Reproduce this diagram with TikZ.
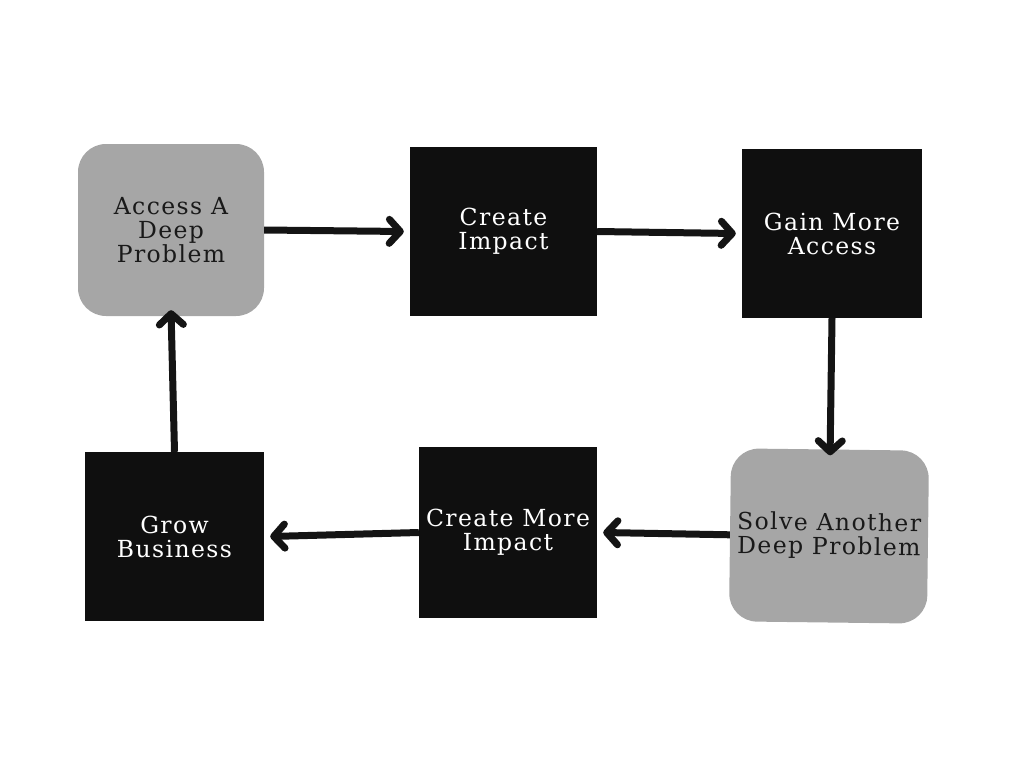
\documentclass[tikz,border=0pt]{standalone}
\usepackage{fontspec}
\setmainfont[LetterSpace=6]{DejaVu Serif}
\usetikzlibrary{arrows.meta}
\begin{document}
\begin{tikzpicture}[x=1pt,y=-1pt,
 base/.style={align=center,font=\fontsize{23.5}{24}\selectfont,inner sep=0pt},
 blk/.style={base,fill=black!94,text=white},
 gry/.style={base,fill=black!35,text=black!90,rounded corners=28pt},
 arr/.style={line width=7pt,black!92,-{Straight Barb[length=11pt,width=24pt,line width=7pt,round]}}]
\useasboundingbox (0,0) rectangle (1024,768);
\node[gry,minimum width=186pt,minimum height=172pt] (a) at (171,230) {Access A\\Deep\\Problem};
\node[blk,minimum width=187pt,minimum height=169pt] (b) at (503.5,231.5) {Create\\Impact};
\node[blk,minimum width=180pt,minimum height=169pt] (c) at (832,233.5) {Gain More\\Access};
\node[gry,minimum width=198pt,minimum height=173pt,rotate=-0.7] (d) at (829,536) {Solve Another\\Deep Problem};
\node[blk,minimum width=178pt,minimum height=171pt] (e) at (508,532.5) {Create More\\Impact};
\node[blk,minimum width=179pt,minimum height=169pt] (f) at (174.5,536.5) {Grow\\Business};
\draw[arr] (a.east) -- ([xshift=-6pt]b.west);
\draw[arr] (b.east) -- ([xshift=-6pt]c.west);
\draw[arr] (c.south) -- ([yshift=-6pt]d.north);
\draw[arr] (d.west) -- ([xshift=6pt]e.east);
\draw[arr] (e.west) -- ([xshift=6pt]f.east);
\draw[arr] (f.north) -- ([yshift=6pt]a.south);
\end{tikzpicture}
\end{document}
